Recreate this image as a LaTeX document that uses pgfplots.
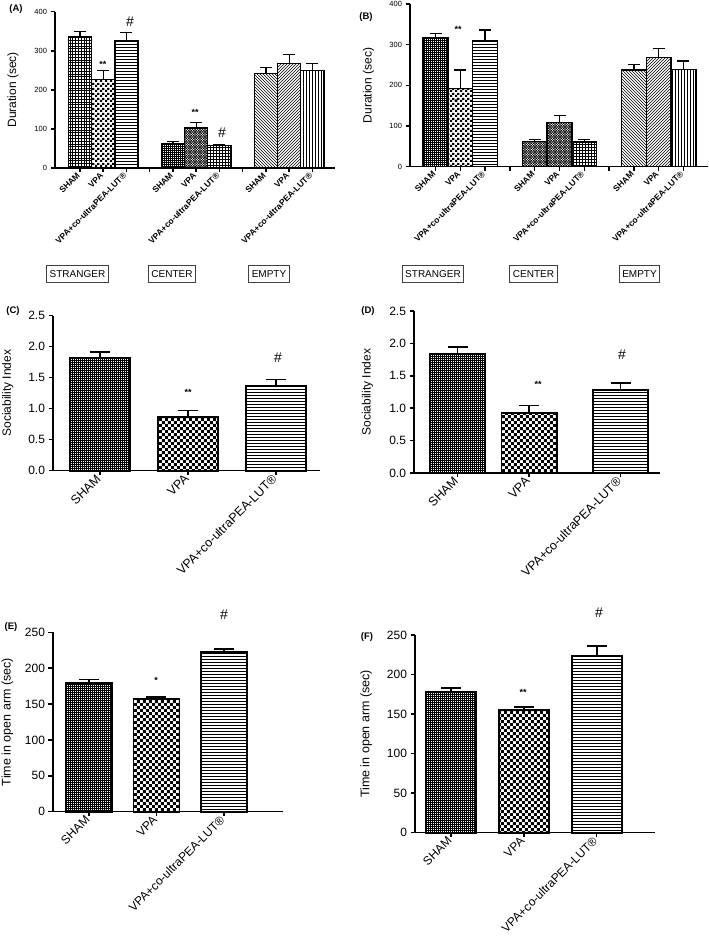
\documentclass[border=0pt]{standalone}
\usepackage{fontspec}
\setmainfont{Liberation Sans}
\usepackage{pgfplots}
\pgfplotsset{compat=1.18}
\usetikzlibrary{patterns}

\pgfdeclarepatternformonly{darkdots}{\pgfqpoint{-1pt}{-1pt}}{\pgfqpoint{3pt}{3pt}}{\pgfqpoint{2pt}{2pt}}{%
 \pgfsetlinewidth{0.5pt}%
 \pgfpathmoveto{\pgfqpoint{0pt}{0pt}}\pgfpathlineto{\pgfqpoint{2pt}{0pt}}%
 \pgfpathmoveto{\pgfqpoint{0pt}{0pt}}\pgfpathlineto{\pgfqpoint{0pt}{2pt}}\pgfusepath{stroke}}
\pgfdeclarepatternformonly{smallcheck}{\pgfqpoint{0pt}{0pt}}{\pgfqpoint{5pt}{5pt}}{\pgfqpoint{5pt}{5pt}}{%
 \pgfpathrectangle{\pgfqpoint{0pt}{0pt}}{\pgfqpoint{2.5pt}{2.5pt}}%
 \pgfpathrectangle{\pgfqpoint{2.5pt}{2.5pt}}{\pgfqpoint{2.5pt}{2.5pt}}\pgfusepath{fill}}
\pgfdeclarepatternformonly{medcheck}{\pgfqpoint{0pt}{0pt}}{\pgfqpoint{6.4pt}{6.4pt}}{\pgfqpoint{6.4pt}{6.4pt}}{%
 \pgfpathrectangle{\pgfqpoint{0pt}{0pt}}{\pgfqpoint{3.2pt}{3.2pt}}%
 \pgfpathrectangle{\pgfqpoint{3.2pt}{3.2pt}}{\pgfqpoint{3.2pt}{3.2pt}}\pgfusepath{fill}}
\pgfdeclarepatternformonly{densegrid}{\pgfqpoint{-1pt}{-1pt}}{\pgfqpoint{3.5pt}{3.5pt}}{\pgfqpoint{2.8pt}{2.8pt}}{%
 \pgfsetlinewidth{0.75pt}%
 \pgfpathmoveto{\pgfqpoint{0pt}{0pt}}\pgfpathlineto{\pgfqpoint{2.8pt}{0pt}}%
 \pgfpathmoveto{\pgfqpoint{0pt}{0pt}}\pgfpathlineto{\pgfqpoint{0pt}{2.8pt}}\pgfusepath{stroke}}
\pgfdeclarepatternformonly{diagx}{\pgfqpoint{-1pt}{-1pt}}{\pgfqpoint{3.5pt}{3.5pt}}{\pgfqpoint{2.5pt}{2.5pt}}{%
 \pgfsetlinewidth{0.45pt}%
 \pgfpathmoveto{\pgfqpoint{0pt}{0pt}}\pgfpathlineto{\pgfqpoint{2.5pt}{2.5pt}}%
 \pgfpathmoveto{\pgfqpoint{0pt}{2.5pt}}\pgfpathlineto{\pgfqpoint{2.5pt}{0pt}}\pgfusepath{stroke}}

\pgfplotsset{
 panel/.style={scale only axis, axis lines=left, axis line style={-, line width=1.5pt},
   tick align=outside, major tick length=4.5pt, tick style={line width=1.5pt, black},
   ymin=0, /pgf/number format/assume math mode=true, clip=false, anchor=south west},
 gbar/.style={ybar, bar width=1, draw=black, line width=1.3pt, pattern color=black,
   error bars/y dir=plus, error bars/y explicit,
   error bars/error bar style={line width=1.3pt, black, solid},
   error bars/error mark options={rotate=90, line width=1.3pt, mark size=6pt, black}},
 cbar/.style={ybar, bar width=#1, draw=black, line width=1.8pt, pattern color=black,
   error bars/y dir=plus, error bars/y explicit,
   error bars/error bar style={line width=1.6pt, black, solid},
   error bars/error mark options={rotate=90, line width=1.6pt, mark size=10pt, black}},
}
\def\LUT{VPA+co-ultraPEA-LUT®}

\begin{document}
\begin{tikzpicture}
\path[use as bounding box] (0,0) rectangle (709pt,942pt);

% ---------- (A)
\begin{axis}[panel, at={(55pt,774pt)}, width=280pt, height=156.3pt,
  xmin=-1.075, xmax=10.97, ymax=400, ytick={0,100,200,300,400},
  xtick={0,1,2,4,5,6,8,9,10},
  xticklabels={SHAM,VPA,\LUT,SHAM,VPA,\LUT,SHAM,VPA,\LUT},
  extra x ticks={3,7}, extra x tick labels={},
  xticklabel style={rotate=45, anchor=east, font=\bfseries\fontsize{8.5}{9}\selectfont, inner sep=2pt},
  yticklabel style={font=\fontsize{7.5}{9}\selectfont},
  ylabel={Duration (sec)},
  ylabel style={at={(axis description cs:-0.15,0.5)}, anchor=center, font=\fontsize{12}{14}\selectfont}]
\addplot[gbar, pattern=densegrid] coordinates {(0,335) +- (0,15)};
\addplot[gbar, pattern=smallcheck] coordinates {(1,227) +- (0,22)};
\addplot[gbar, pattern=horizontal lines] coordinates {(2,325) +- (0,21)};
\addplot[gbar, pattern=darkdots] coordinates {(4,63) +- (0,4)};
\addplot[gbar, pattern=diagx] coordinates {(5,102) +- (0,14)};
\addplot[gbar, pattern=grid] coordinates {(6,57) +- (0,2)};
\addplot[gbar, pattern=north west lines] coordinates {(8,242) +- (0,16)};
\addplot[gbar, pattern=north east lines] coordinates {(9,268) +- (0,23)};
\addplot[gbar, pattern=vertical lines] coordinates {(10,250) +- (0,18)};
\end{axis}

% ---------- (B)
\begin{axis}[panel, at={(410pt,775.3pt)}, width=298pt, height=162.7pt,
  xmin=-1.03, xmax=10.99, ymax=400, ytick={0,100,200,300,400},
  xtick={0,1,2,4,5,6,8,9,10},
  xticklabels={SHAM,VPA,\LUT,SHAM,VPA,\LUT,SHAM,VPA,\LUT},
  extra x ticks={3,7}, extra x tick labels={},
  xticklabel style={rotate=45, anchor=east, font=\bfseries\fontsize{8.5}{9}\selectfont, inner sep=2pt},
  yticklabel style={font=\fontsize{7.5}{9}\selectfont},
  ylabel={Duration (sec)},
  ylabel style={at={(axis description cs:-0.139,0.5)}, anchor=center, font=\fontsize{12}{14}\selectfont}]
\addplot[gbar, pattern=darkdots] coordinates {(0,318) +- (0,9)};
\addplot[gbar, pattern=smallcheck] coordinates {(1,192) +- (0,46)};
\addplot[gbar, pattern=horizontal lines] coordinates {(2,311) +- (0,25)};
\addplot[gbar, pattern=diagx] coordinates {(4,62) +- (0,5)};
\addplot[gbar, pattern=diagx] coordinates {(5,108) +- (0,17)};
\addplot[gbar, pattern=grid] coordinates {(6,61) +- (0,5)};
\addplot[gbar, pattern=north west lines] coordinates {(8,238) +- (0,14)};
\addplot[gbar, pattern=north east lines] coordinates {(9,269) +- (0,21)};
\addplot[gbar, pattern=vertical lines] coordinates {(10,239) +- (0,21)};
\end{axis}

% ---------- (C)
\begin{axis}[panel, at={(53pt,471.3pt)}, width=267pt, height=155pt,
  xmin=-0.534, xmax=2.5, ymax=2.5, ytick={0,0.5,1,1.5,2,2.5},
  xtick={0,1,2}, xticklabels={SHAM,VPA,\LUT},
  xticklabel style={rotate=45, anchor=east, font=\fontsize{12.5}{14}\selectfont, inner sep=2pt},
  yticklabel style={font=\fontsize{12}{14}\selectfont, /pgf/number format/fixed, /pgf/number format/fixed zerofill, /pgf/number format/precision=1},
  ylabel={Sociability Index},
  ylabel style={at={(axis description cs:-0.169,0.5)}, anchor=center, font=\fontsize{12}{14}\selectfont}]
\addplot[cbar=0.68, pattern=darkdots] coordinates {(0,1.82) +- (0,0.09)};
\addplot[cbar=0.68, pattern=medcheck] coordinates {(1,0.86) +- (0,0.11)};
\addplot[cbar=0.68, pattern=horizontal lines] coordinates {(2,1.36) +- (0,0.11)};
\end{axis}

% ---------- (D)
\begin{axis}[panel, at={(414pt,469pt)}, width=246pt, height=162pt,
  xmin=-0.608, xmax=2.83, ymax=2.5, ytick={0,0.5,1,1.5,2,2.5},
  xtick={0,1,2.28}, xticklabels={SHAM,VPA,\LUT},
  xticklabel style={rotate=45, anchor=east, font=\fontsize{12.5}{14}\selectfont, inner sep=2pt},
  yticklabel style={font=\fontsize{12}{14}\selectfont, /pgf/number format/fixed, /pgf/number format/fixed zerofill, /pgf/number format/precision=1},
  ylabel={Sociability Index},
  ylabel style={at={(axis description cs:-0.189,0.5)}, anchor=center, font=\fontsize{12}{14}\selectfont}]
\addplot[cbar=0.77, pattern=darkdots] coordinates {(0,1.84) +- (0,0.10)};
\addplot[cbar=0.77, pattern=medcheck] coordinates {(1,0.93) +- (0,0.11)};
\addplot[cbar=0.77, pattern=horizontal lines] coordinates {(2.28,1.28) +- (0,0.11)};
\end{axis}

% ---------- (E)
\begin{axis}[panel, at={(53pt,130.3pt)}, width=230pt, height=179.4pt,
  xmin=-0.533, xmax=2.874, ymax=250, ytick={0,50,100,150,200,250},
  xtick={0,1,2}, xticklabels={SHAM,VPA,\LUT},
  xticklabel style={rotate=45, anchor=east, font=\fontsize{12}{14}\selectfont, inner sep=2pt},
  yticklabel style={font=\fontsize{12}{14}\selectfont},
  ylabel={Time in open arm (sec)},
  ylabel style={at={(axis description cs:-0.198,0.5)}, anchor=center, font=\fontsize{12.5}{14}\selectfont}]
\addplot[cbar=0.68, pattern=darkdots] coordinates {(0,179) +- (0,5)};
\addplot[cbar=0.68, pattern=medcheck] coordinates {(1,157) +- (0,3)};
\addplot[cbar=0.68, pattern=horizontal lines] coordinates {(2,222) +- (0,5)};
\end{axis}

% ---------- (F)
\begin{axis}[panel, at={(415pt,109.3pt)}, width=240pt, height=197.7pt,
  xmin=-0.495, xmax=2.80, ymax=250, ytick={0,50,100,150,200,250},
  xtick={0,1,2}, xticklabels={SHAM,VPA,\LUT},
  xticklabel style={rotate=45, anchor=east, font=\fontsize{12}{14}\selectfont, inner sep=2pt},
  yticklabel style={font=\fontsize{12}{14}\selectfont},
  ylabel={Time in open arm (sec)},
  ylabel style={at={(axis description cs:-0.204,0.5)}, anchor=center, font=\fontsize{12.5}{14}\selectfont}]
\addplot[cbar=0.69, pattern=darkdots] coordinates {(0,178) +- (0,5)};
\addplot[cbar=0.69, pattern=medcheck] coordinates {(1,155) +- (0,4)};
\addplot[cbar=0.69, pattern=horizontal lines] coordinates {(2,224) +- (0,12)};
\end{axis}

% ---------- panel letters
\begin{scope}[every node/.style={font=\bfseries\fontsize{9.5}{11}\selectfont}]
\node at (16pt,933pt) {(A)};
\node at (366pt,925pt) {(B)};
\node at (13pt,631pt) {(C)};
\node at (368pt,631pt) {(D)};
\node at (11pt,315pt) {(E)};
\node at (367pt,305pt) {(F)};
\end{scope}

% ---------- group boxes
\begin{scope}[every node/.style={draw=black!75, line width=1pt, inner xsep=3pt, minimum height=17pt, font=\fontsize{10}{12}\selectfont}]
\node at (77.5pt,668pt) {STRANGER};
\node at (172pt,668pt) {CENTER};
\node at (269pt,668pt) {EMPTY};
\node at (433pt,667.5pt) {STRANGER};
\node at (533.5pt,667.5pt) {CENTER};
\node at (639.5pt,667.5pt) {EMPTY};
\end{scope}

% ---------- significance marks
\begin{scope}[every node/.style={font=\bfseries\fontsize{9}{10}\selectfont}]
\node at (103pt,878pt) {**};
\node at (195pt,830pt) {**};
\node at (458pt,913pt) {**};
\node at (456pt,840pt) {*};
\node at (188pt,550pt) {**};
\node at (538pt,558pt) {**};
\node at (156pt,262pt) {*};
\node at (523pt,250pt) {**};
\end{scope}
\begin{scope}[every node/.style={font=\fontsize{14}{16}\selectfont}]
\node at (130pt,920pt) {\#};
\node at (222pt,809pt) {\#};
\node at (278pt,584pt) {\#};
\node at (622pt,587pt) {\#};
\node at (224pt,327pt) {\#};
\node at (599pt,329pt) {\#};
\end{scope}
\end{tikzpicture}
\end{document}
